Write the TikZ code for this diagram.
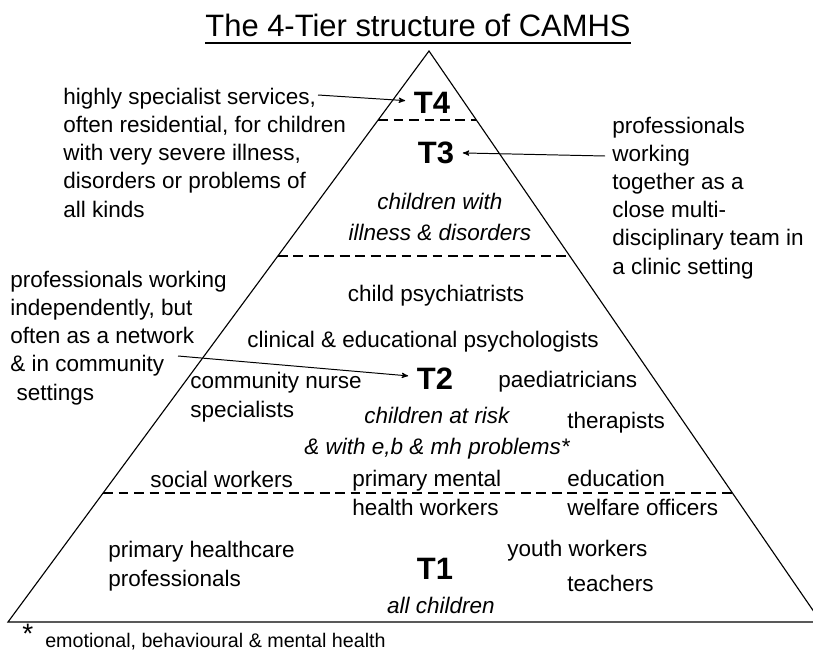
\documentclass[tikz,border=0pt]{standalone}
\usepackage{fontspec}
\setmainfont{Liberation Sans}
\usetikzlibrary{arrows}
\usetikzlibrary{calc}
\tikzset{x=0.025cm, y=-0.025cm,
tier/.style={ % Sets the properties for the tier names
font=\fontsize{22}{26}\selectfont\bfseries,
inner sep=6pt},
group/.style={ % Italic texts naming the children of a tier
font=\fontsize{16}{22}\selectfont\itshape,
align=center, inner sep=0pt, anchor=base},
staff/.style={ % Professions and side notes (base = last line)
font=\fontsize{16}{20}\selectfont,
align=left, inner sep=0pt, anchor=base west},
divide/.style={dash pattern=on 7pt off 4pt, line width=1.4pt},
pointer/.style={ % Arrows from the side notes
draw, ->, >=stealth', line width=0.7pt}}

\begin{document}
\begin{tikzpicture}
\useasboundingbox (0,0) rectangle (813,650);
\node[font=\fontsize{22}{26}\selectfont, inner sep=0pt, anchor=base] (title) at (418,37) {The 4-Tier structure of CAMHS};
\draw[line width=1.4pt] ([yshift=-4.3pt]title.base west) -- ([yshift=-4.3pt]title.base east);

% pyramid and tier borders
\coordinate (apex) at (429,51);
\coordinate (bl) at (8,622);
\coordinate (br) at (821,622);
\draw[line width=0.8pt] (bl) -- (apex) -- (br) -- cycle;
\draw[divide] ($(apex)!0.1208!(bl)$) -- ($(apex)!0.1208!(br)$);
\draw[divide] ($(apex)!0.3590!(bl)$) -- ($(apex)!0.3590!(br)$);
\draw[divide] ($(apex)!0.7741!(bl)$) -- ($(apex)!0.7741!(br)$);

\node[tier, anchor=base] (t4) at (432,113) {T4};
\node[tier, anchor=base] (t3) at (436,163) {T3};
\node[tier, anchor=base] (t2) at (435,389) {T2};
\node[tier, anchor=base] (t1) at (435,579) {T1};

\node[group] (g3) at (440,240) {children with\\illness \& disorders};
\node[group] (g2) at (437,454) {children at risk\\\& with e,b \& mh problems*};
\node[group] (g1) at (441,613) {all children};

% side notes
\node[staff] (n4) at (63,217) {highly specialist services,\\often residential, for children\\with very severe illness,\\disorders or problems of\\all kinds};
\node[staff] (n3) at (612,274) {professionals\\working\\together as a\\close multi-\\disciplinary team in\\a clinic setting};
\node[staff] (n2) at (10,400) {professionals working\\independently, but\\often as a network\\\& in community\\\ settings};
\coordinate (a4) at (318,95);
\coordinate (a3) at (605,156);
\coordinate (a2) at (178,356);
\draw[pointer] (a4) -- (t4);
\draw[pointer] (a3) -- (t3);
\draw[pointer] (a2) -- (t2);

% tier 2
\node[staff, anchor=base] (psy) at (436,301) {child psychiatrists};
\node[staff, anchor=base] (clin) at (423,347) {clinical \& educational psychologists};
\node[staff] (nurse) at (190,417) {community nurse\\specialists};
\node[staff] (paed) at (498,387) {paediatricians};
\node[staff] (ther) at (567,428) {therapists};
\node[staff] (soc) at (150,487) {social workers};
\node[staff] (pmh) at (352,515) {primary mental\\health workers};
\node[staff] (edu) at (567,515) {education\\welfare officers};

% tier 1
\node[staff] (phc) at (108,586) {primary healthcare\\professionals};
\node[staff] (youth) at (507,556) {youth workers};
\node[staff] (teach) at (567,591) {teachers};

\node[font=\fontsize{20}{20}\selectfont, inner sep=0pt, anchor=base west] (star) at (22,643) {*};
\node[font=\fontsize{14}{16}\selectfont, inner sep=0pt, anchor=base west] (foot) at (45,647) {emotional, behavioural \& mental health};
\end{tikzpicture}
\end{document}
